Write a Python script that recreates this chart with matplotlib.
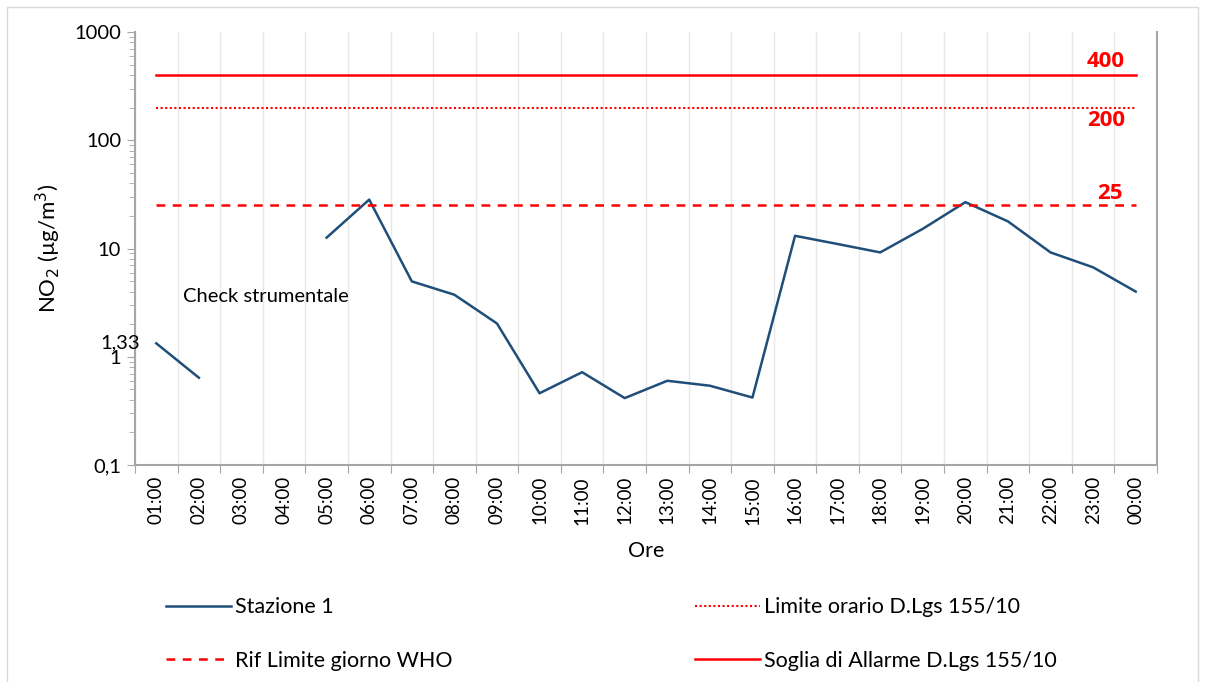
import numpy as np
import matplotlib
matplotlib.use("Agg")
import matplotlib.pyplot as plt
from matplotlib.patches import Rectangle
from matplotlib.ticker import FixedLocator, NullFormatter, LogLocator

plt.rcParams["font.family"] = ["Lato", "DejaVu Sans"]

# --- data ---
hours = ["01:00", "02:00", "03:00", "04:00", "05:00", "06:00", "07:00", "08:00",
         "09:00", "10:00", "11:00", "12:00", "13:00", "14:00", "15:00", "16:00",
         "17:00", "18:00", "19:00", "20:00", "21:00", "22:00", "23:00", "00:00"]
stazione1 = [1.33, 0.64, np.nan, np.nan, 12.6, 28.3, 4.97, 3.74,
             2.03, 0.46, 0.72, 0.415, 0.60, 0.54, 0.42, 13.1,
             11.0, 9.2, 15.2, 26.8, 17.8, 9.2, 6.7, 4.0]
who_day = 25
limite_orario = 200
soglia_allarme = 400
yticks = [0.1, 1, 10, 100, 1000]
ytick_labels = ["0,1", "1", "10", "100", "1000"]

BLUE = "#1f4e79"
RED = "#ff0000"
GREY = "#a6a6a6"

fig = plt.figure(figsize=(12.06, 6.82), dpi=100)
ax = fig.add_axes([135 / 1206, 1 - 465 / 682, (1157 - 135) / 1206, (465 - 32) / 682])

x = np.arange(len(hours))
l_st, = ax.plot(x, stazione1, color=BLUE, lw=1.8, label="Stazione 1")
l_who, = ax.plot(x, [who_day] * len(x), color=RED, lw=1.8, ls=(0, (3.5, 3)),
                 label="Rif Limite giorno WHO")
l_or, = ax.plot(x, [limite_orario] * len(x), color=RED, lw=1.5, ls=(0, (1, 1.2)),
                label="Limite orario D.Lgs 155/10")
l_al, = ax.plot(x, [soglia_allarme] * len(x), color=RED, lw=1.8,
                label="Soglia di Allarme D.Lgs 155/10")

ax.set_yscale("log")
ax.set_ylim(0.1, 1000)
ax.set_xlim(-0.5, len(hours) - 0.5)
ax.yaxis.set_major_locator(FixedLocator(yticks))
ax.set_yticklabels(ytick_labels, fontsize=14.5)
ax.yaxis.set_minor_locator(LogLocator(base=10, subs=np.arange(2, 10)))
ax.yaxis.set_minor_formatter(NullFormatter())

# category boundaries carry the ticks and grid
ax.set_xticks(np.arange(-0.5, len(hours) + 0.5, 1))
ax.set_xticklabels([])
ax.set_xticks(x, minor=True)
ax.set_xticklabels(hours, minor=True, rotation=90, fontsize=13.5)
ax.tick_params(axis="x", which="minor", length=0, pad=8)
ax.tick_params(axis="x", which="major", length=6, color=GREY)
ax.tick_params(axis="y", which="major", length=6, color=GREY, pad=4)
ax.tick_params(axis="y", which="minor", length=4, color=GREY)
ax.grid(axis="x", which="major", color="#e8e8e8", lw=1)

for s in ["left", "bottom", "right"]:
    ax.spines[s].set_color(GREY)
    ax.spines[s].set_linewidth(1.5)
ax.spines["top"].set_visible(False)

ax.set_xlabel("Ore", fontsize=15.5, labelpad=12)
ax.set_ylabel("NO$_2$ (µg/m$^3$)", fontsize=16, labelpad=8)

# value labels
bold = dict(color=RED, fontsize=16, fontweight="bold", family=["Open Sans", "DejaVu Sans"])
ax.annotate("400", (22.3, soglia_allarme), xytext=(0, 2), textcoords="offset points",
            ha="center", va="bottom", **bold)
ax.annotate("200", (22.3, limite_orario), xytext=(0, -2), textcoords="offset points",
            ha="center", va="top", **bold)
ax.annotate("25", (22.4, who_day), xytext=(0, 1), textcoords="offset points",
            ha="center", va="bottom", **bold)
ax.annotate("1,33", (0, stazione1[0]), xytext=(-12, 0), textcoords="offset points",
            ha="right", va="center", fontsize=14.5, annotation_clip=False)
ax.text(0.63, 3.6, "Check strumentale", ha="left", va="center", fontsize=14.5)

# legend in two separate columns
leg_kw = dict(frameon=False, fontsize=15.5, handlelength=3.0, handletextpad=0.2,
              labelspacing=1.55, loc="upper left")
fig.legend([l_st, l_who], ["Stazione 1", "Rif Limite giorno WHO"],
           bbox_to_anchor=(147 / 1206, 1 - 578 / 682), **leg_kw)
fig.legend([l_or, l_al], ["Limite orario D.Lgs 155/10", "Soglia di Allarme D.Lgs 155/10"],
           bbox_to_anchor=(676 / 1206, 1 - 578 / 682), **leg_kw)

# chart border
fig.patches.append(Rectangle((7 / 1206, -0.01), (1198 - 7) / 1206, 1 - 7 / 682 + 0.01,
                             transform=fig.transFigure, fill=False,
                             edgecolor="#d9d9d9", lw=1))

fig.savefig("out.png", dpi=100)
